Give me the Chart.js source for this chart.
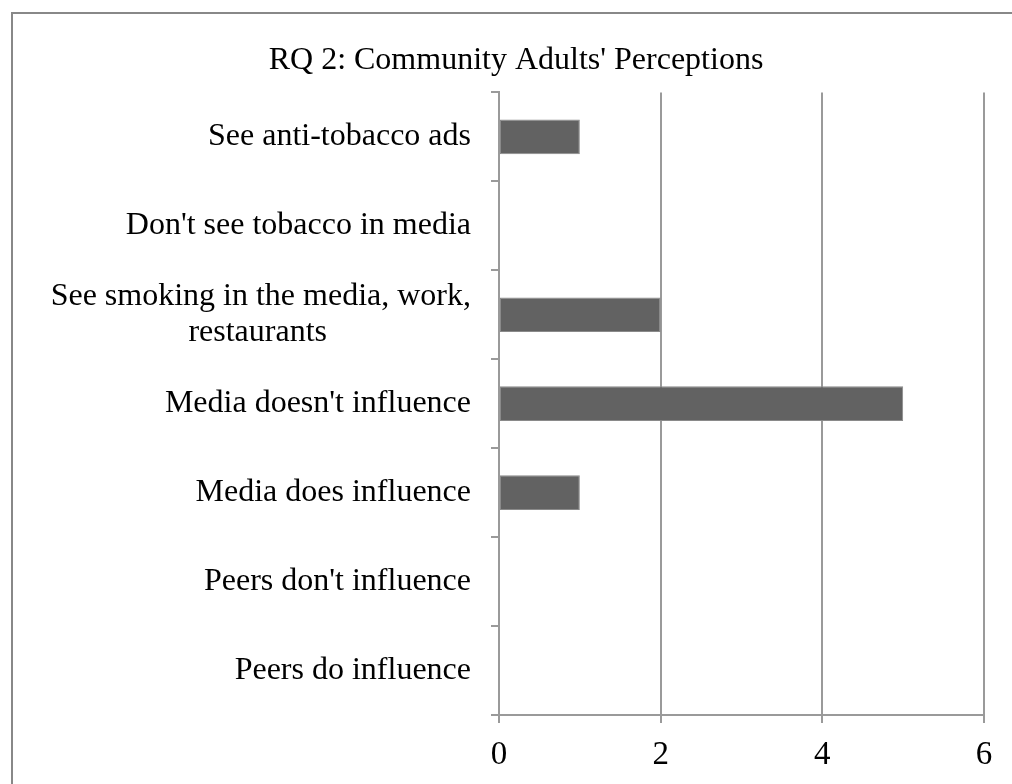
<!DOCTYPE html>
<html>
<head>
<meta charset="utf-8">
<script src="https://cdn.jsdelivr.net/npm/chart.js@4.4.0/dist/chart.umd.min.js"></script>
<style>
  html, body { margin: 0; padding: 0; background: #fff; }
  #wrap { width: 1012px; height: 784px; position: relative; }
</style>
</head>
<body>
<div id="wrap"><canvas id="chart" width="1012" height="784"></canvas></div>
<script>
const categories = [
  'See anti-tobacco ads',
  "Don't see tobacco in media",
  ['See smoking in the media, work,', 'restaurants'],
  "Media doesn't influence",
  'Media does influence',
  "Peers don't influence",
  'Peers do influence'
];
const counts = [1, 0, 2, 5, 1, 0, 0];
const xTicks = [0, 2, 4, 6];

const FONT = '"Liberation Serif", "Times New Roman", serif';
const GRID = '#9a9a9a';
const LABEL_SIZE = 32;

// pad shorter lines of a wrapped label so the lines sit centred on each other
const measureCtx = document.createElement('canvas').getContext('2d');
function centreLines(label, size) {
  if (!Array.isArray(label)) return label;
  measureCtx.font = size + 'px ' + FONT;
  const widths = label.map(l => measureCtx.measureText(l).width);
  const maxW = Math.max(...widths);
  const sp = measureCtx.measureText('\u00A0').width;
  return label.map((l, i) => l + '\u00A0'.repeat(Math.round((maxW - widths[i]) / 2 / sp)));
}

// outer frame around the chart
const framePlugin = {
  id: 'frame',
  beforeDraw(chart) {
    const ctx = chart.ctx;
    ctx.save();
    ctx.strokeStyle = '#888';
    ctx.lineWidth = 2;
    ctx.strokeRect(12, 13, 1100, 900);
    ctx.restore();
  }
};

new Chart(document.getElementById('chart'), {
  type: 'bar',
  data: {
    labels: categories.map(c => centreLines(c, LABEL_SIZE)),
    datasets: [{
      data: counts,
      backgroundColor: '#626262',
      borderColor: '#8a8a8a',
      borderWidth: 1,
      borderSkipped: false,
      barPercentage: 0.39,
      categoryPercentage: 1
    }]
  },
  options: {
    indexAxis: 'y',
    responsive: false,
    animation: false,
    layout: { padding: { left: 48, right: 28, top: 0, bottom: 0 } },
    plugins: {
      legend: { display: false },
      tooltip: { enabled: false },
      title: {
        display: true,
        text: "RQ 2: Community Adults' Perceptions",
        color: '#000',
        font: { family: FONT, size: 32, weight: 'normal' },
        padding: { top: 41, bottom: 13 }
      }
    },
    scales: {
      x: {
        min: 0,
        max: 6,
        afterBuildTicks(scale) {
          scale.ticks = xTicks.map(v => ({ value: v }));
        },
        afterFit(scale) { scale.height = 69; },
        grid: { color: GRID, lineWidth: 2, tickLength: 8 },
        border: { color: GRID, width: 2 },
        ticks: {
          color: '#000',
          padding: 13,
          font: { family: FONT, size: 33 }
        }
      },
      y: {
        afterFit(scale) { scale.width = 451; },
        grid: { offset: true, drawOnChartArea: false, color: GRID, lineWidth: 2, tickLength: 8 },
        border: { color: GRID, width: 2 },
        ticks: {
          color: '#000',
          padding: 20,
          font: { family: FONT, size: LABEL_SIZE, lineHeight: 1.125 }
        }
      }
    }
  },
  plugins: [framePlugin]
});
</script>
</body>
</html>
